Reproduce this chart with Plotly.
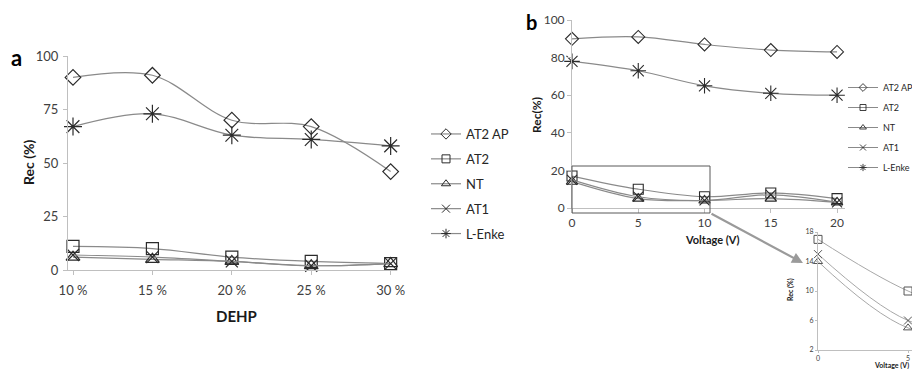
import plotly.graph_objects as go

W, H = 912, 369

# ---------------- data ----------------
dehp = ["10 %", "15 %", "20 %", "25 %", "30 %"]
a_AT2AP = [90, 91, 70, 67, 46]
a_AT2 = [11, 10, 6, 4, 3]
a_NT = [6, 5, 4, 2, 3]
a_AT1 = [7, 6, 4, 2, 3]
a_LEnke = [67, 73, 63, 61, 58]

voltage = [0, 5, 10, 15, 20]
b_AT2AP = [90, 91, 87, 84, 83]
b_AT2 = [17, 10, 6, 8, 5]
b_NT = [14, 5, 4, 5, 3]
b_AT1 = [15, 6, 4, 7, 3]
b_LEnke = [78, 73, 65, 61, 60]

names = ["AT2 AP", "AT2", "NT", "AT1", "L-Enke"]
symbols = ["diamond-open", "square-open", "triangle-up-open", "x-thin-open", "asterisk-open"]

FONT = "Lato, 'Liberation Sans', sans-serif"
LINE = "#8a8a8a"
MK = "#2b2b2b"
AX = "#bfbfbf"
TXT = "#404040"


def px_x(p):
    return p / W


def px_y(p):
    return 1 - p / H


fig = go.Figure()

series_a = [a_AT2AP, a_AT2, a_NT, a_AT1, a_LEnke]
series_b = [b_AT2AP, b_AT2, b_NT, b_AT1, b_LEnke]
sizes_a = [12, 12, 12, 12, 15]
sizes_b = [10, 10, 10, 10, 13]

for i, (nm, sym, ys) in enumerate(zip(names, symbols, series_a)):
    fig.add_trace(go.Scatter(
        x=dehp, y=ys, name=nm, mode="lines+markers", showlegend=False,
        line=dict(color=LINE, width=1.2, shape="spline"),
        marker=dict(symbol=sym, size=sizes_a[i], color=MK, line=dict(color=MK, width=1.2)),
        xaxis="x", yaxis="y", cliponaxis=False,
    ))
    # legend entry (small symbol, like the reference legend)
    fig.add_trace(go.Scatter(
        x=[None], y=[None], name=nm, mode="lines+markers",
        line=dict(color=LINE, width=1.2),
        marker=dict(symbol=sym, size=8, color=MK, line=dict(color=MK, width=1)),
        xaxis="x", yaxis="y", legend="legend", legendgroup="a%d" % i,
    ))

for i, (nm, sym, ys) in enumerate(zip(names, symbols, series_b)):
    fig.add_trace(go.Scatter(
        x=voltage, y=ys, name=nm, mode="lines+markers", showlegend=False,
        line=dict(color=LINE, width=1.2, shape="spline"),
        marker=dict(symbol=sym, size=sizes_b[i], color=MK, line=dict(color=MK, width=1.1)),
        xaxis="x2", yaxis="y2", cliponaxis=False,
    ))
    fig.add_trace(go.Scatter(
        x=[None], y=[None], name=nm, mode="lines+markers",
        line=dict(color=LINE, width=1),
        marker=dict(symbol=sym, size=6, color=MK, line=dict(color=MK, width=0.9)),
        xaxis="x2", yaxis="y2", legend="legend2", legendgroup="b%d" % i,
    ))

# inset (AT2, NT, AT1)
for i in [1, 2, 3]:
    fig.add_trace(go.Scatter(
        x=voltage, y=series_b[i], name=names[i], mode="lines+markers", showlegend=False,
        line=dict(color="#a8a8a8", width=1, shape="spline"),
        marker=dict(symbol=symbols[i], size=8, color="#555555", line=dict(color="#555555", width=1)),
        xaxis="x3", yaxis="y3", cliponaxis=False,
    ))

axis_common = dict(showgrid=False, zeroline=False, showline=True, linecolor=AX, linewidth=1,
                   automargin=False,
                   ticks="outside", tickcolor=AX, ticklen=4, tickfont=dict(family=FONT, size=13, color=TXT))

fig.update_layout(
    width=W, height=H, margin=dict(l=0, r=0, t=0, b=0, autoexpand=False),
    paper_bgcolor="white", plot_bgcolor="white",
    font=dict(family=FONT, color=TXT),
    xaxis=dict(axis_common, domain=[px_x(68), px_x(397)], anchor="y", type="category",
               range=[-0.063, 4.08], ticklabelstandoff=4),
    yaxis=dict(axis_common, domain=[px_y(270), px_y(56)], anchor="x", range=[0, 100],
               tickvals=[0, 25, 50, 75, 100], ticklabelstandoff=2),
    xaxis2=dict(axis_common, domain=[px_x(572), px_x(845)], anchor="y2", range=[0, 20.6],
                tickvals=voltage, tickfont=dict(family=FONT, size=12, color=TXT), ticklabelstandoff=0),
    yaxis2=dict(axis_common, domain=[px_y(208), px_y(20)], anchor="x2", range=[0, 100],
                tickvals=[0, 20, 40, 60, 80, 100], tickfont=dict(family=FONT, size=12, color=TXT)),
    xaxis3=dict(axis_common, domain=[px_x(818), 1.0], anchor="y3", range=[0, 5.22],
                tickvals=[0, 5], ticklen=2, tickfont=dict(family=FONT, size=7, color=TXT)),
    yaxis3=dict(axis_common, domain=[px_y(350), px_y(232)], anchor="x3", range=[2, 18],
                tickvals=[2, 6, 10, 14, 18], ticklen=2, tickfont=dict(family=FONT, size=7, color=TXT)),
    legend=dict(x=px_x(426), y=px_y(119), xanchor="left", yanchor="top",
                font=dict(family=FONT, size=13, color="#262626"), tracegroupgap=5,
                bgcolor="rgba(0,0,0,0)", itemwidth=30),
    legend2=dict(x=px_x(843), y=px_y(73), xanchor="left", yanchor="top",
                 font=dict(family=FONT, size=9, color="#262626"), tracegroupgap=1,
                 bgcolor="rgba(0,0,0,0)", itemwidth=30),
    showlegend=True,
)

ann = [
    dict(text="<b>a</b>", x=px_x(16), y=px_y(57), font=dict(size=22, color="black")),
    dict(text="<b>b</b>", x=px_x(531), y=px_y(22), font=dict(size=20, color="black")),
    dict(text="<b>Rec (%)</b>", x=px_x(28), y=px_y(163), textangle=-90, font=dict(size=14, color="#1a1a1a")),
    dict(text="<b>DEHP</b>", x=px_x(236), y=px_y(316), font=dict(size=15, color="#1a1a1a")),
    dict(text="<b>Rec(%)</b>", x=px_x(536), y=px_y(115), textangle=-90, font=dict(size=12, color="#1a1a1a")),
    dict(text="<b>Voltage (V)</b>", x=px_x(712), y=px_y(239), font=dict(size=11, color="#1a1a1a")),
    dict(text="<b>Rec (%)</b>", x=px_x(790), y=px_y(290), textangle=-90, font=dict(size=7, color="#1a1a1a")),
    dict(text="<b>Voltage (V)</b>", x=px_x(872), y=px_y(365), xanchor="left", font=dict(size=7, color="#1a1a1a")),
]
for a in ann:
    a.setdefault("xanchor", "center")
    a["xref"] = "paper"
    a["yref"] = "paper"
    a["yanchor"] = "middle"
    a["showarrow"] = False
    a["font"]["family"] = FONT
    fig.add_annotation(**a)

# arrow from zoom box to inset
fig.add_annotation(x=px_x(803), y=px_y(263), xref="paper", yref="paper",
                   ax=710 - 803, ay=213 - 263, axref="pixel", ayref="pixel",
                   showarrow=True, arrowhead=2, arrowsize=1, arrowwidth=2.2,
                   arrowcolor="#9a9a9a", text="")

# zoom rectangle
fig.add_shape(type="rect", xref="paper", yref="paper",
              x0=px_x(572), x1=px_x(710), y0=px_y(213), y1=px_y(166),
              line=dict(color="#595959", width=1), fillcolor="rgba(0,0,0,0)")

fig.write_html("out.html")
